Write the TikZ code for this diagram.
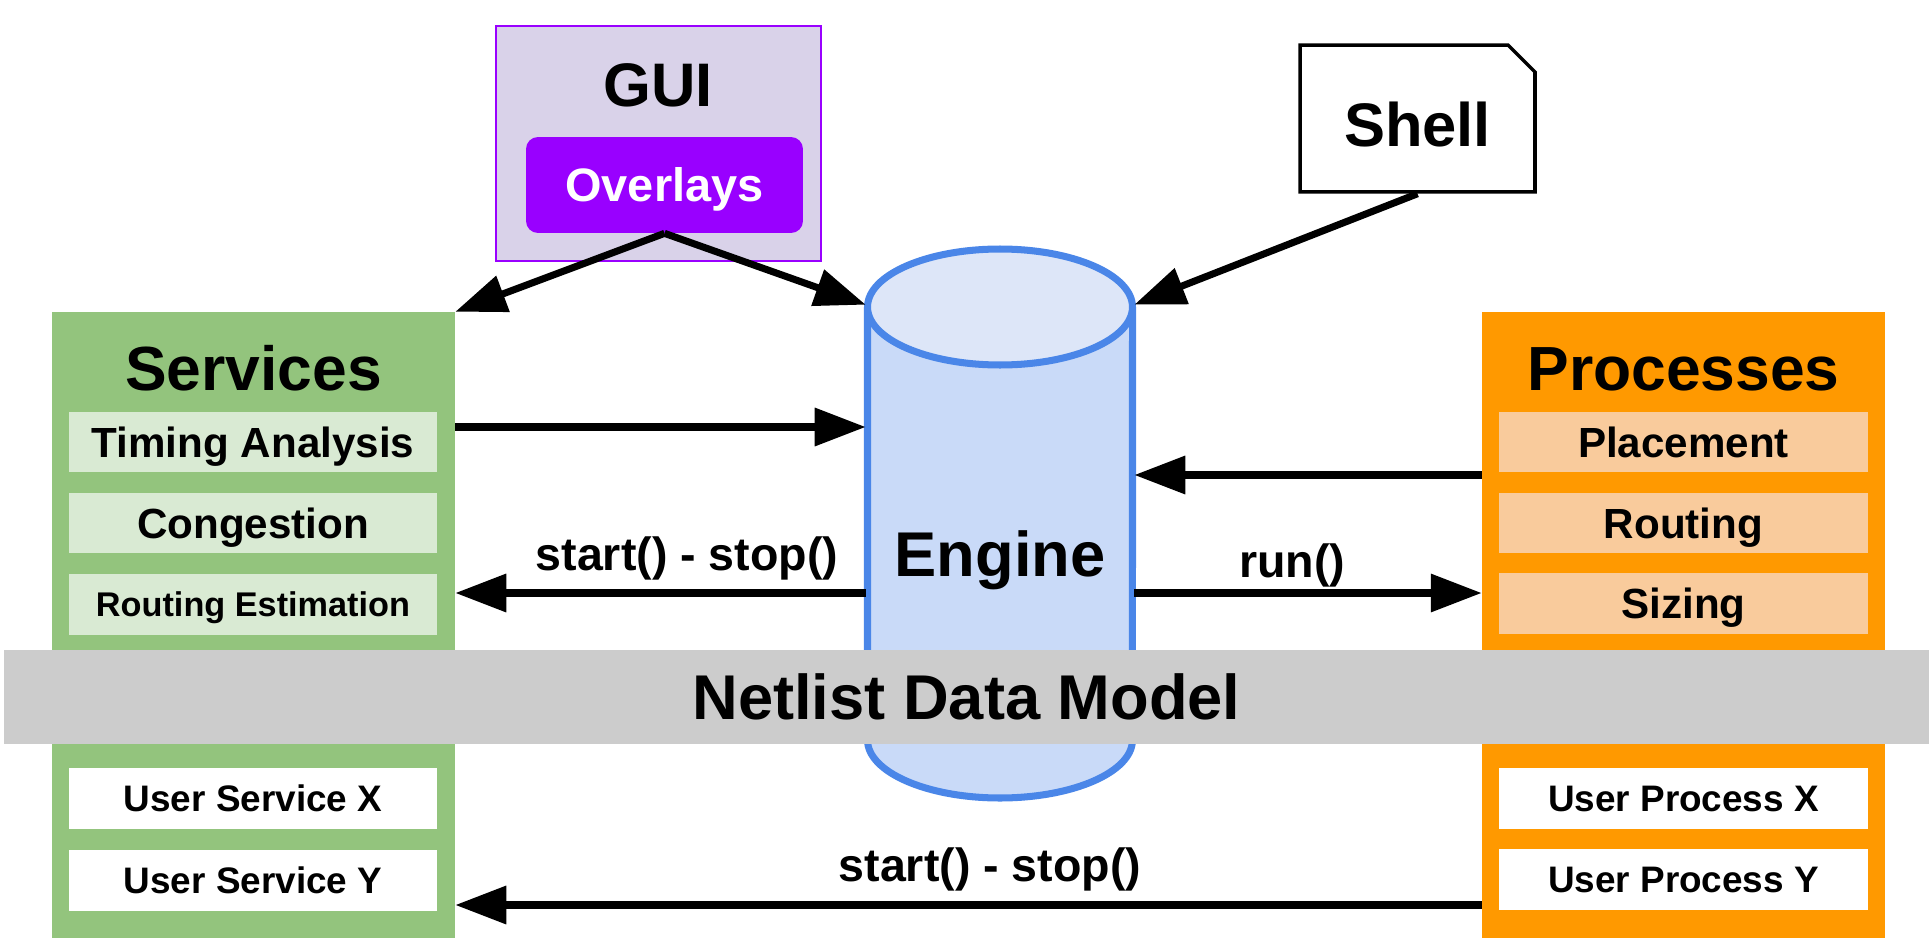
\documentclass[tikz,border=0pt]{standalone}
\usepackage{fontspec}
\setmainfont{Liberation Sans}
\usetikzlibrary{arrows.meta,shapes.misc}
\definecolor{svcgreen}{HTML}{93C47D}
\definecolor{svclight}{HTML}{D9EAD3}
\definecolor{procorange}{HTML}{FF9900}
\definecolor{proclight}{HTML}{F9CB9C}
\definecolor{guipurple}{HTML}{9900FF}
\definecolor{guilight}{HTML}{D9D2E9}
\definecolor{engblue}{HTML}{4A86E8}
\definecolor{engbody}{HTML}{C9DAF8}
\definecolor{engtop}{HTML}{DDE6F8}
\definecolor{netgray}{HTML}{CCCCCC}
\newcommand\bfsize[1]{\fontsize{#1}{#1}\selectfont\bfseries}

\begin{document}
\begin{tikzpicture}[x=0.02cm,y=-0.02cm,
  txt/.style={font=\bfsize{#1},text height=0.716*#1pt,text depth=0pt,inner sep=0pt},
  group/.style={minimum width=8.06cm,minimum height=12.52cm,inner sep=0pt},
  item/.style={minimum width=7.38cm,minimum height=1.22cm},
  arr/.style={line width=4pt,-{Triangle[length=29pt,width=21pt]}},
  lbl/.style={font=\bfsize{26.5}}]
\useasboundingbox (0,0) rectangle (1929,939);

\node[group,fill=svcgreen] (svc) at (253.5,625) {};
\node[group,fill=procorange] (proc) at (1683.5,625) {};

\node[txt=35.5] (svctitle) at (253.5,368) {Services};
\node[item,txt=24,fill=svclight] (timing) at (253,442) {Timing Analysis};
\node[item,txt=24,fill=svclight] (congest) at (253,523) {Congestion};
\node[item,txt=19.5,fill=svclight] (routest) at (253,604) {Routing Estimation};
\node[item,txt=21,fill=white] (usvcx) at (253,798) {User Service X};
\node[item,txt=21,fill=white] (usvcy) at (253,880.5) {User Service Y};

\node[txt=35.5] (proctitle) at (1683.5,368) {Processes};
\node[item,txt=24,fill=proclight] (place) at (1683.5,442) {Placement};
\node[item,txt=24,fill=proclight] (route) at (1683.5,523) {Routing};
\node[item,txt=24,fill=proclight] (sizing) at (1683.5,603.5) {Sizing};
\node[item,txt=21,fill=white] (uprocx) at (1683.5,798) {User Process X};
\node[item,txt=21,fill=white] (uprocy) at (1683.5,879.5) {User Process Y};

\fill[engbody] (867.5,307) -- (867.5,740) arc[start angle=180,end angle=360,x radius=2.65cm,y radius=1.16cm] -- (1132.5,307) -- cycle;
\draw[engblue,line width=4pt] (867.5,307) -- (867.5,740) arc[start angle=180,end angle=360,x radius=2.65cm,y radius=1.16cm] -- (1132.5,307);
\draw[engblue,line width=4pt,fill=engtop] (1000,307) ellipse [x radius=2.65cm,y radius=1.16cm];
\node[txt=36,minimum width=5.36cm,minimum height=9.96cm] (engine) at (1000,554) {Engine};

\node[txt=36,fill=netgray,minimum width=38.5cm,minimum height=1.88cm] (net) at (966.5,697) {Netlist Data Model};

\node[fill=guilight,draw=guipurple,line width=1.4pt,minimum width=6.5cm,minimum height=4.7cm] (gui) at (658.5,143.5) {};
\node[txt=35] (guititle) at (658,84) {GUI};
\node[txt=26.7,fill=guipurple,text=white,rounded corners=0.24cm,minimum width=5.54cm,minimum height=1.92cm] (overlays) at (664.5,185) {Overlays};

\node[chamfered rectangle,chamfered rectangle corners=north east,chamfered rectangle xsep=0.27cm,chamfered rectangle ysep=0.27cm,draw,line width=2pt,fill=white,txt=35,text height=0.716*35pt+7pt,minimum width=4.7cm,minimum height=2.94cm] (shell) at (1417.5,118.5) {Shell};

\node[lbl] (ss1) at (687,558) {start() - stop()};
\node[lbl] (run) at (1292,565) {run()};
\node[lbl] (ss2) at (990,869) {start() - stop()};

\draw[arr] (overlays.south) -- (svc.north east);
\draw[arr] (overlays.south) -- (engine.north west);
\draw[arr] (shell.south) -- (engine.north east);
\draw[arr] (svc.east |- 0,427) -- (engine.west |- 0,427);
\draw[arr] (proc.west |- 0,475) -- (engine.east |- 0,475);
\draw[arr] (engine.west |- 0,593) -- (svc.east |- 0,593);
\draw[arr] (engine.east |- 0,593) -- (proc.west |- 0,593);
\draw[arr] (proc.west |- 0,905) -- (svc.east |- 0,905);
\end{tikzpicture}
\end{document}
